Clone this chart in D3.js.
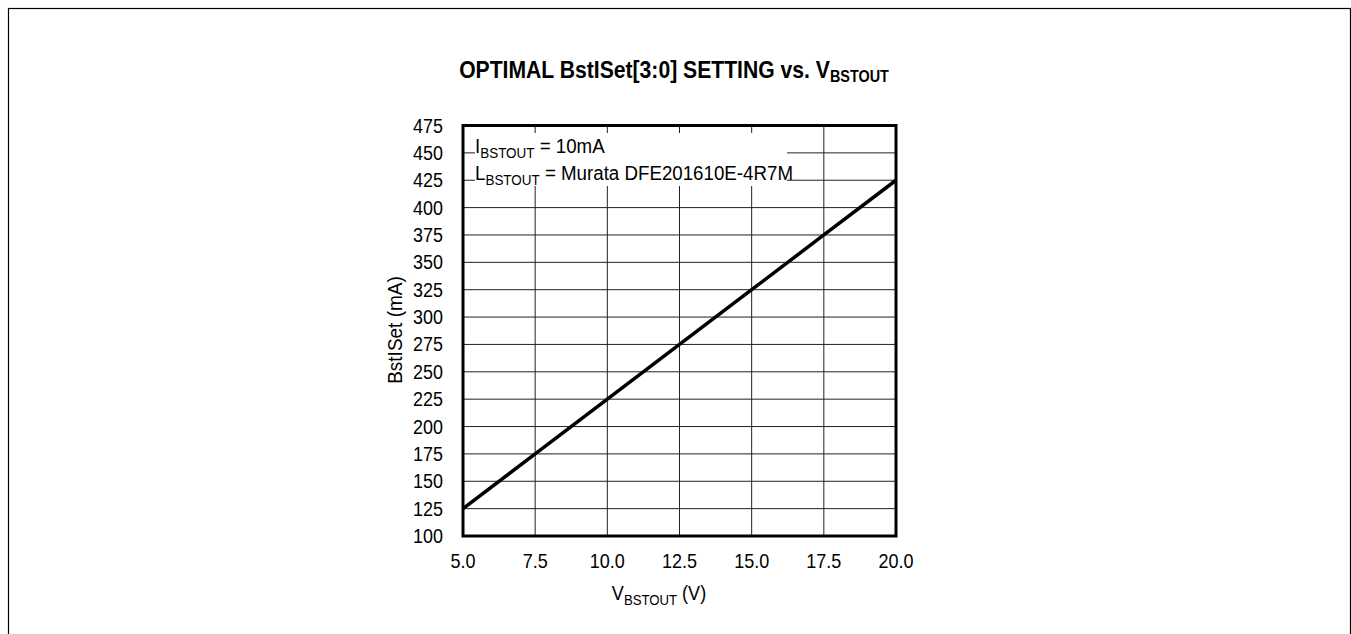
<!DOCTYPE html>
<html>
<head>
<meta charset="utf-8">
<script src="https://cdn.jsdelivr.net/npm/d3@7"></script>
<style>
  body { margin: 0; background: #fff; }
  text { font-family: "Liberation Sans", Arial, sans-serif; fill: #000; }
</style>
</head>
<body>
<svg id="chart"></svg>
<script>
var w = 1351;
var h = 634;
// values
let vout = [5.0, 7.5, 10.0, 12.5, 15.0, 17.5, 20.0];
let bstiset = [125, 175, 225, 275, 325, 375, 425];
let xTicks = [5.0, 7.5, 10.0, 12.5, 15.0, 17.5, 20.0];
let yTicks = [100, 125, 150, 175, 200, 225, 250, 275, 300, 325, 350, 375, 400, 425, 450, 475];

var margin = { left: 463, right: 896, top: 125.5, bottom: 536 };

var svg = d3.select("#chart")
    .attr("width", w)
    .attr("height", h);

// condensed text: the source font is narrower than anything installed
function place(sel, px, py, sx) {
    return sel.attr("transform", "translate(" + px + "," + py + ") scale(" + sx + ",1)");
}

// outer frame of the figure
svg.append("rect")
    .attr("x", 8.5).attr("y", 8.5)
    .attr("width", 1342).attr("height", 700)
    .attr("fill", "none")
    .attr("stroke", "#000")
    .attr("stroke-width", 1.2);

var x = d3.scaleLinear().domain([5, 20]).range([margin.left, margin.right]);
var y = d3.scaleLinear().domain([100, 475]).range([margin.bottom, margin.top]);

// grid
svg.append("g").selectAll("line")
    .data(xTicks.slice(1, -1))
    .enter().append("line")
    .attr("x1", d => x(d)).attr("x2", d => x(d))
    .attr("y1", margin.top).attr("y2", margin.bottom)
    .attr("stroke", "#222").attr("stroke-width", 1);
svg.append("g").selectAll("line")
    .data(yTicks.slice(1, -1))
    .enter().append("line")
    .attr("x1", margin.left).attr("x2", margin.right)
    .attr("y1", d => y(d)).attr("y2", d => y(d))
    .attr("stroke", "#222").attr("stroke-width", 1);

// white box behind the notes
svg.append("rect")
    .attr("x", 475).attr("y", 133)
    .attr("width", 312).attr("height", 53)
    .attr("fill", "#fff");

// text with a subscript part
function sub(txt, main, subtxt, rest, fs, dy) {
    txt.append("tspan").text(main);
    txt.append("tspan").attr("dy", dy).attr("font-size", fs).text(subtxt);
    if (rest) txt.append("tspan").attr("dy", -dy).text(rest);
}
var n1 = place(svg.append("text"), 475, y(450), 0.96).attr("font-size", 19.5);
sub(n1, "I", "BSTOUT", " = 10mA", 14, 5);
var n2 = place(svg.append("text"), 475, y(425), 0.96).attr("font-size", 19.5);
sub(n2, "L", "BSTOUT", " = Murata DFE201610E-4R7M", 14, 5);

// data line
var line = d3.line().x(d => x(d[0])).y(d => y(d[1]));
svg.append("path")
    .datum(d3.zip(vout, bstiset))
    .attr("d", line)
    .attr("fill", "none")
    .attr("stroke", "#000")
    .attr("stroke-width", 3.5);

// plot frame
svg.append("rect")
    .attr("x", margin.left).attr("y", margin.top)
    .attr("width", margin.right - margin.left)
    .attr("height", margin.bottom - margin.top)
    .attr("fill", "none")
    .attr("stroke", "#000")
    .attr("stroke-width", 3);

// tick labels
svg.append("g").selectAll("text")
    .data(yTicks)
    .enter().append("text")
    .attr("transform", d => "translate(443," + (y(d) + 7) + ") scale(0.92,1)")
    .attr("text-anchor", "end")
    .attr("font-size", 19.5)
    .text(d => d);
svg.append("g").selectAll("text")
    .data(xTicks)
    .enter().append("text")
    .attr("transform", d => "translate(" + x(d) + ",568) scale(0.9,1)")
    .attr("text-anchor", "middle")
    .attr("font-size", 20)
    .text(d => d3.format(".1f")(d));

// axis titles
var xt = place(svg.append("text"), 659, 600, 0.88)
    .attr("text-anchor", "middle")
    .attr("font-size", 20.5);
sub(xt, "V", "BSTOUT", " (V)", 15, 5);

svg.append("text")
    .attr("transform", "translate(402,330) rotate(-90) scale(0.95,1)")
    .attr("text-anchor", "middle")
    .attr("font-size", 20)
    .text("BstISet (mA)");

// title
var tt = place(svg.append("text"), 674, 78, 0.9)
    .attr("text-anchor", "middle")
    .attr("font-size", 23.5)
    .attr("font-weight", "bold");
sub(tt, "OPTIMAL BstISet[3:0] SETTING vs. V", "BSTOUT", null, 16, 4);
</script>
</body>
</html>
